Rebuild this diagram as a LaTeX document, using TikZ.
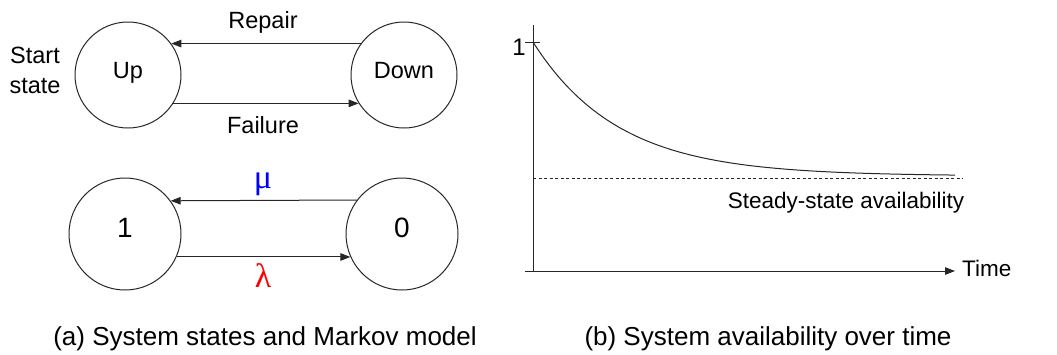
\documentclass[tikz,border=0pt]{standalone}
\usepackage{fontspec}
\setmainfont{Liberation Sans}
\newfontfamily\greekfont{Liberation Serif}
\usetikzlibrary{arrows.meta}
\tikzset{
  statebox/.style={circle,draw=black!85,line width=1pt,inner sep=0pt,minimum size=#1,
    font=\fontsize{23.5}{28}\selectfont,text height=0.716em,text depth=0pt},
  arr/.style={line width=1pt,draw=black!85,-{Triangle[length=10pt,width=7.5pt]}},
  lbl/.style={font=\fontsize{23.5}{28}\selectfont,anchor=base,inner sep=0pt},
  glbl/.style={font=\fontsize{22.5}{27}\selectfont,inner sep=0pt},
  captext/.style={font=\fontsize{26}{30}\selectfont,anchor=base,inner sep=0pt},
  greeklbl/.style={font=\fontsize{34}{36}\selectfont\greekfont,anchor=base,inner sep=0pt},
  axisline/.style={line width=1pt,draw=black!85},
}
\begin{document}
\begin{tikzpicture}[x=1pt,y=-1pt]
\path[use as bounding box] (0,0) rectangle (1057,354);
% (a) top: states
\node[statebox=106pt] (U) at (128,75) {Up};
\node[statebox=106pt] (D) at (404,75) {Down};
\draw[arr] (D.144) -- (U.36);
\draw[arr] (U.-32) -- (D.212);
\node[lbl] (rep) at (263,28) {Repair};
\node[lbl] (fail) at (263,133) {Failure};
\node[lbl] (st1) at (35,63) {Start};
\node[lbl] (st2) at (35,93) {state};
% (a) bottom: Markov model
\node[statebox=112pt,font=\fontsize{28}{32}\selectfont] (S1) at (125,234) {1};
\node[statebox=112pt,font=\fontsize{28}{32}\selectfont] (S0) at (402,234) {0};
\draw[arr] (S0.143.9) -- (S1.36.1);
\draw[arr] (S1.-24.2) -- (S0.204.2);
\node[greeklbl,text=blue] (mu) at (263,188) {μ};
\node[greeklbl,text=red] (lam) at (263,287) {λ};
% captions
\node[captext] (capa) at (265,345) {(a) System states and Markov model};
\node[captext] (capb) at (768,345) {(b) System availability over time};
% (b) graph
\coordinate (O) at (533,271);
\coordinate (ytop) at (533,25);
\coordinate (xleft) at (525,271);
\coordinate (xend) at (955,271);
\draw[axisline] (O) -- (ytop);
\draw[axisline,-{Triangle[length=10pt,width=7.5pt]}] (xleft) -- (xend);
\coordinate (tickl) at (525,42);
\coordinate (tickr) at (540,42);
\draw[axisline] (tickl) -- (tickr);
\node[glbl,anchor=base,font=\fontsize{24}{28}\selectfont] (one) at (519,55) {1};
\node[glbl,anchor=base west] (time) at (962,276) {Time};
\draw[line width=1pt,black!85] plot[domain=533:955,samples=120,smooth] (\x,{176-134*exp(-(\x-533)/85)});
\coordinate (dl) at (533,178);
\coordinate (dr) at (963,178);
\draw[line width=1pt,black!85,dash pattern=on 3pt off 2.5pt] (dl) -- (dr);
\node[glbl,anchor=base] (ss) at (846,208) {Steady-state availability};
\end{tikzpicture}
\end{document}
